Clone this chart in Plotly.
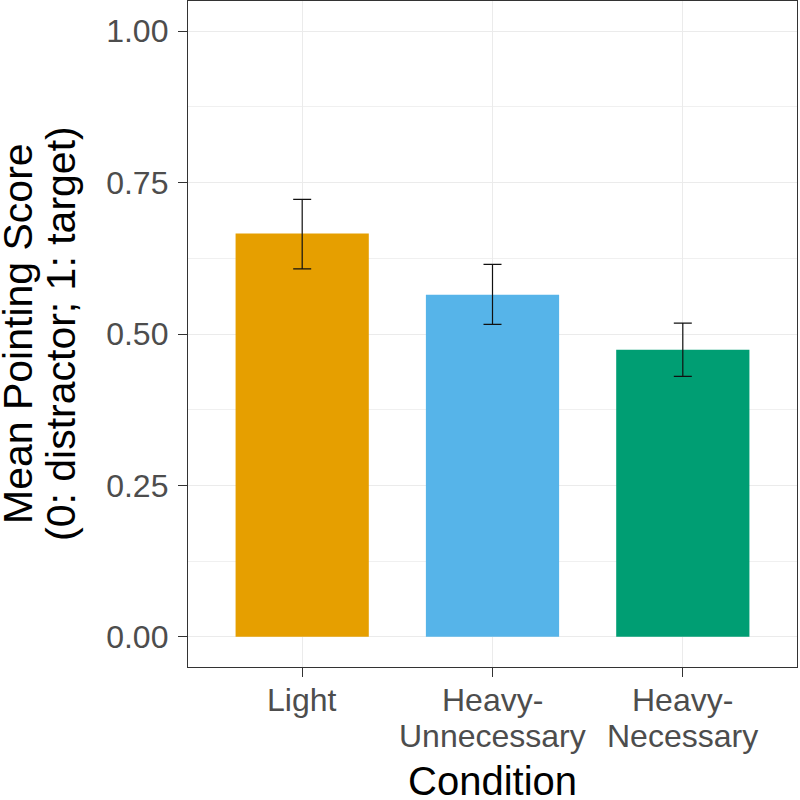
import plotly.graph_objects as go

categories = ["Light", "Heavy-\nUnnecessary", "Heavy-\nNecessary"]
means = [0.666, 0.565, 0.474]
upper = [0.7225, 0.615, 0.518]
lower = [0.6075, 0.516, 0.430]
colors = ["#E69F00", "#56B4E9", "#009E73"]
y_ticks = [0, 0.25, 0.5, 0.75, 1.0]
y_ticklabels = ["0.00", "0.25", "0.50", "0.75", "1.00"]
x_title = "Condition"
y_title_lines = ["Mean Pointing Score", "(0: distractor; 1: target)"]

err_plus = [u - m for u, m in zip(upper, means)]
err_minus = [m - l for m, l in zip(means, lower)]
xpos = list(range(1, len(categories) + 1))

font_family = "Liberation Sans, Arial, Helvetica, sans-serif"

# plot-area geometry in pixels
W, H = 800, 800
L, R, T, B = 188, 3, 1, 133
pw, ph = W - L - R, H - T - B
def px_x(p):
    return (p - L) / pw
def px_y(p):
    return (H - B - p) / ph

fig = go.Figure()
fig.add_trace(go.Bar(
    x=xpos, y=means,
    width=0.7,
    marker=dict(color=colors, line=dict(width=0)),
    error_y=dict(type="data", symmetric=False, array=err_plus, arrayminus=err_minus,
                 color="#111111", thickness=1.2, width=9),
    showlegend=False,
    hoverinfo="skip",
))

annotations = []
# x tick labels (ggplot-style tight line spacing)
line_centers = [700, 736]
for xi, lab in zip(xpos, categories):
    for li, line in enumerate(lab.split("\n")):
        annotations.append(dict(x=xi, xref="x", y=px_y(line_centers[li]), yref="paper",
                                text=line, showarrow=False, xanchor="center", yanchor="middle",
                                font=dict(size=32, color="#4D4D4D", family=font_family)))
# x title
annotations.append(dict(x=0.5, xref="paper", y=px_y(781), yref="paper", text=x_title,
                        showarrow=False, xanchor="center", yanchor="middle",
                        font=dict(size=40, color="black", family=font_family)))
# y title lines
for cx, line in zip([18, 61], y_title_lines):
    annotations.append(dict(x=px_x(cx), xref="paper", y=0.5, yref="paper", text=line,
                            showarrow=False, xanchor="center", yanchor="middle", textangle=-90,
                            font=dict(size=41, color="black", family=font_family)))

fig.update_layout(
    width=W, height=H,
    margin=dict(l=L, r=R, t=T, b=B),
    plot_bgcolor="white", paper_bgcolor="white",
    font=dict(family=font_family),
    annotations=annotations,
)
fig.update_xaxes(
    range=[0.4, 3.6], automargin=False,
    tickmode="array", tickvals=xpos, ticktext=["" for _ in xpos],
    ticks="outside", ticklen=9, tickcolor="#333333", tickwidth=1.3,
    showgrid=True, gridcolor="#EBEBEB", gridwidth=1.3,
    showline=True, linecolor="#333333", linewidth=1.3, mirror=True,
    zeroline=False,
)
fig.update_yaxes(
    range=[-0.05, 1.05], automargin=False,
    tickmode="array", tickvals=y_ticks, ticktext=y_ticklabels,
    tickfont=dict(size=32, color="#4D4D4D"),
    ticks="outside", ticklen=9, tickcolor="#333333", tickwidth=1.3,
    ticklabelstandoff=3,
    showgrid=True, gridcolor="#EBEBEB", gridwidth=1.3,
    minor=dict(tickvals=[0.125, 0.375, 0.625, 0.875], showgrid=True, gridcolor="#F0F0F0", gridwidth=0.8, ticks=""),
    showline=True, linecolor="#333333", linewidth=1.3, mirror=True,
    zeroline=False,
)

fig.write_html("out.html", config={"displayModeBar": False},
               post_script="document.body.style.margin='0';document.body.style.overflow='hidden';")
